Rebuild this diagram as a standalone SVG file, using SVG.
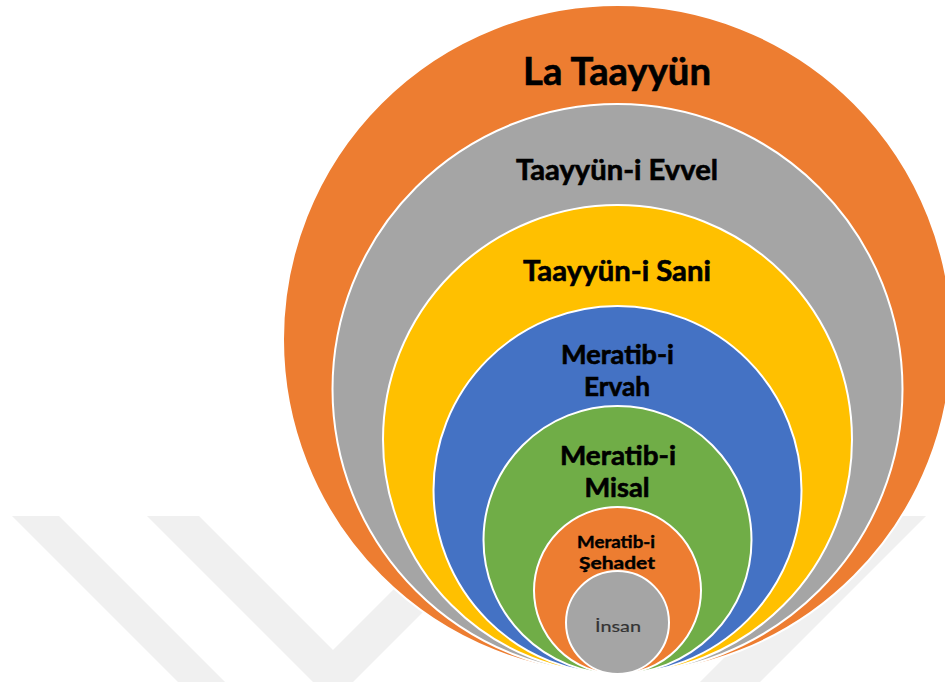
<svg xmlns="http://www.w3.org/2000/svg" width="945" height="682" viewBox="0 0 945 682">
<style>
.ring{stroke:#FFFFFF;stroke-width:2}
.or{fill:#ED7D31}.gr{fill:#A5A5A5}.ye{fill:#FFC000}.bl{fill:#4472C4}.gn{fill:#70AD47}
.lbl{font-family:Lato,"Open Sans","Liberation Sans",sans-serif;font-weight:700;fill:#000000;stroke:#000000;stroke-width:0.6;text-anchor:middle}
.reg{font-family:Lato,"Open Sans","Liberation Sans",sans-serif;font-weight:400;fill:#333333;stroke:#333333;stroke-width:0.2;text-anchor:middle}
.wm{fill:#F0F0F0}
</style>
<rect x="0" y="0" width="945" height="682" fill="#FFFFFF"/>
<g id="watermark">
<polygon class="wm" points="12,516 59,516 225,682 178,682"/>
<polygon class="wm" points="147,516 199,516 333,650 467,516 519,516 333,702"/>
<polygon class="wm" points="700,682 760,682 926,516 866,516"/>
</g>
<g id="la-taayyun">
<circle class="ring or" cx="617.5" cy="339.5" r="334.5"/>
<text class="lbl" x="617" y="85" font-size="38" textLength="188" lengthAdjust="spacingAndGlyphs">La Taayyün</text>
</g>
<g id="taayyun-i-evvel">
<circle class="ring gr" cx="617.5" cy="389" r="285"/>
<text class="lbl" x="617" y="180" font-size="28" textLength="202" lengthAdjust="spacingAndGlyphs">Taayyün-i Evvel</text>
</g>
<g id="taayyun-i-sani">
<circle class="ring ye" cx="617.5" cy="439.5" r="234.5"/>
<text class="lbl" x="617" y="281" font-size="28" textLength="188" lengthAdjust="spacingAndGlyphs">Taayyün-i Sani</text>
</g>
<g id="meratib-i-ervah">
<circle class="ring bl" cx="617.5" cy="490" r="184"/>
<text class="lbl" x="617.5" y="364" font-size="26" textLength="113" lengthAdjust="spacingAndGlyphs">Meratib-i</text>
<text class="lbl" x="617" y="396" font-size="26" textLength="66" lengthAdjust="spacingAndGlyphs">Ervah</text>
</g>
<g id="meratib-i-misal">
<circle class="ring gn" cx="617.5" cy="540" r="134"/>
<text class="lbl" x="618" y="465" font-size="26" textLength="116" lengthAdjust="spacingAndGlyphs">Meratib-i</text>
<text class="lbl" x="617" y="497" font-size="26" textLength="65" lengthAdjust="spacingAndGlyphs">Misal</text>
</g>
<g id="meratib-i-sehadet">
<circle class="ring or" cx="617.5" cy="590.5" r="83.5"/>
<text class="lbl" x="616" y="548" font-size="17" textLength="78" lengthAdjust="spacingAndGlyphs" style="stroke-width:0.4">Meratib-i</text>
<text class="lbl" x="617" y="569" font-size="17" textLength="76" lengthAdjust="spacingAndGlyphs" style="stroke-width:0.4">Şehadet</text>
</g>
<g id="insan">
<circle class="ring gr" cx="617.5" cy="622.5" r="51.5"/>
<text class="reg" x="618" y="632" font-size="16" textLength="46" lengthAdjust="spacingAndGlyphs">İnsan</text>
</g>
</svg>
